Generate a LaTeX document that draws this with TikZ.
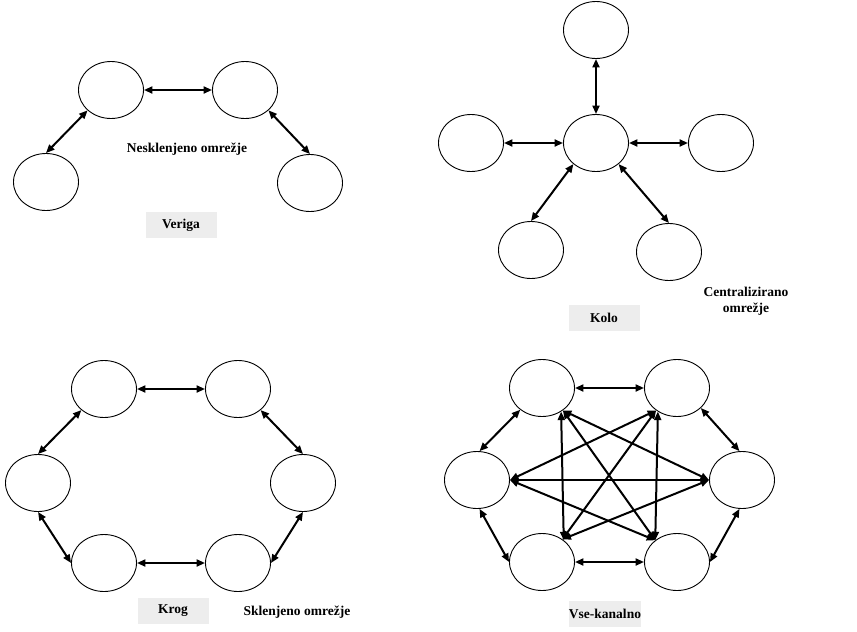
\documentclass[tikz,border=0pt]{standalone}
\usepackage{fontspec}
\setmainfont{Liberation Serif}
\usetikzlibrary{shapes.geometric,arrows.meta}
\tikzset{
  nd/.style={draw=black,line width=0.9pt,ellipse,minimum width=65pt,minimum height=57pt,inner sep=0pt},
  conn/.style={line width=2pt,{Triangle[length=8.5pt,width=7pt]}-{Triangle[length=8.5pt,width=7pt]}},
  lbl/.style={font=\fontsize{13.5}{16}\selectfont\bfseries,align=center},
  tag/.style={lbl,fill=black!7,minimum width=71pt,minimum height=26pt,inner sep=0pt}
}
\begin{document}
\begin{tikzpicture}[x=1pt,y=-1pt]
\useasboundingbox (0,0) rectangle (857,632);
% Veriga
\node[nd] (v1) at (46,182) {};
\node[nd] (v2) at (111,90) {};
\node[nd] (v3) at (245,90) {};
\node[nd] (v4) at (310,183) {};
\draw[conn] (v1.90) -- (v2.-139);
\draw[conn] (v2.east) -- (v3.west);
\draw[conn] (v3.-41) -- (v4.90);
\node[lbl] (vl) at (187,149) {Nesklenjeno omrežje};
\node[tag] (vt) at (181,225) {Veriga};
% Kolo
\node[nd] (k0) at (596,143) {};
\node[nd] (kt) at (596,30) {};
\node[nd] (kl) at (471,143) {};
\node[nd] (kr) at (721,143) {};
\node[nd] (kbl) at (531,250) {};
\node[nd] (kbr) at (669,252) {};
\draw[conn] (kt.south) -- (k0.north);
\draw[conn] (kl.east) -- (k0.west);
\draw[conn] (k0.east) -- (kr.west);
\draw[conn] (k0.-137) -- (kbl.90);
\draw[conn] (k0.-43) -- (kbr.90);
\node[lbl] (kl2) at (746,301) {Centralizirano\\omrežje};
\node[tag] (kt2) at (604,318) {Kolo};
% Krog
\node[nd] (r1) at (104,389) {};
\node[nd] (r2) at (238,389) {};
\node[nd] (r3) at (38,483) {};
\node[nd] (r4) at (303,483) {};
\node[nd] (r5) at (104,563) {};
\node[nd] (r6) at (238,563) {};
\draw[conn] (r1.east) -- (r2.west);
\draw[conn] (r1.-137) -- (r3.north);
\draw[conn] (r2.-43) -- (r4.north);
\draw[conn] (r3.south) -- (r5.west);
\draw[conn] (r4.south) -- (r6.east);
\draw[conn] (r5.east) -- (r6.west);
\node[tag] (rt) at (173,611) {Krog};
\node[lbl] (rl) at (297,612) {Sklenjeno omrežje};
% Vse-kanalno
\node[nd] (a1) at (542,388) {};
\node[nd] (a2) at (677,388) {};
\node[nd] (a3) at (477,480) {};
\node[nd] (a4) at (742,480) {};
\node[nd] (a5) at (542,562) {};
\node[nd] (a6) at (677,562) {};
\draw[conn] (a1.east) -- (a2.west);
\draw[conn] (a1.-135) -- (a3.85);
\draw[conn] (a2.-40) -- (a4.95);
\draw[conn] (a3.-85) -- (a5.west);
\draw[conn] (a4.-95) -- (a6.east);
\draw[conn] (a5.east) -- (a6.west);
\draw[conn] (a1.-51) -- (a5.45);
\draw[conn] (a1.-47) -- (a6.135);
\draw[conn] (a1.-47) -- (a4.west);
\draw[conn] (a2.-129) -- (a6.135);
\draw[conn] (a2.-133) -- (a5.48);
\draw[conn] (a2.-133) -- (a3.east);
\draw[conn] (a3.east) -- (a4.west);
\draw[conn] (a3.east) -- (a6.135);
\draw[conn] (a4.west) -- (a5.48);
\node[tag] (at) at (605,614) {Vse-kanalno};
\end{tikzpicture}
\end{document}
